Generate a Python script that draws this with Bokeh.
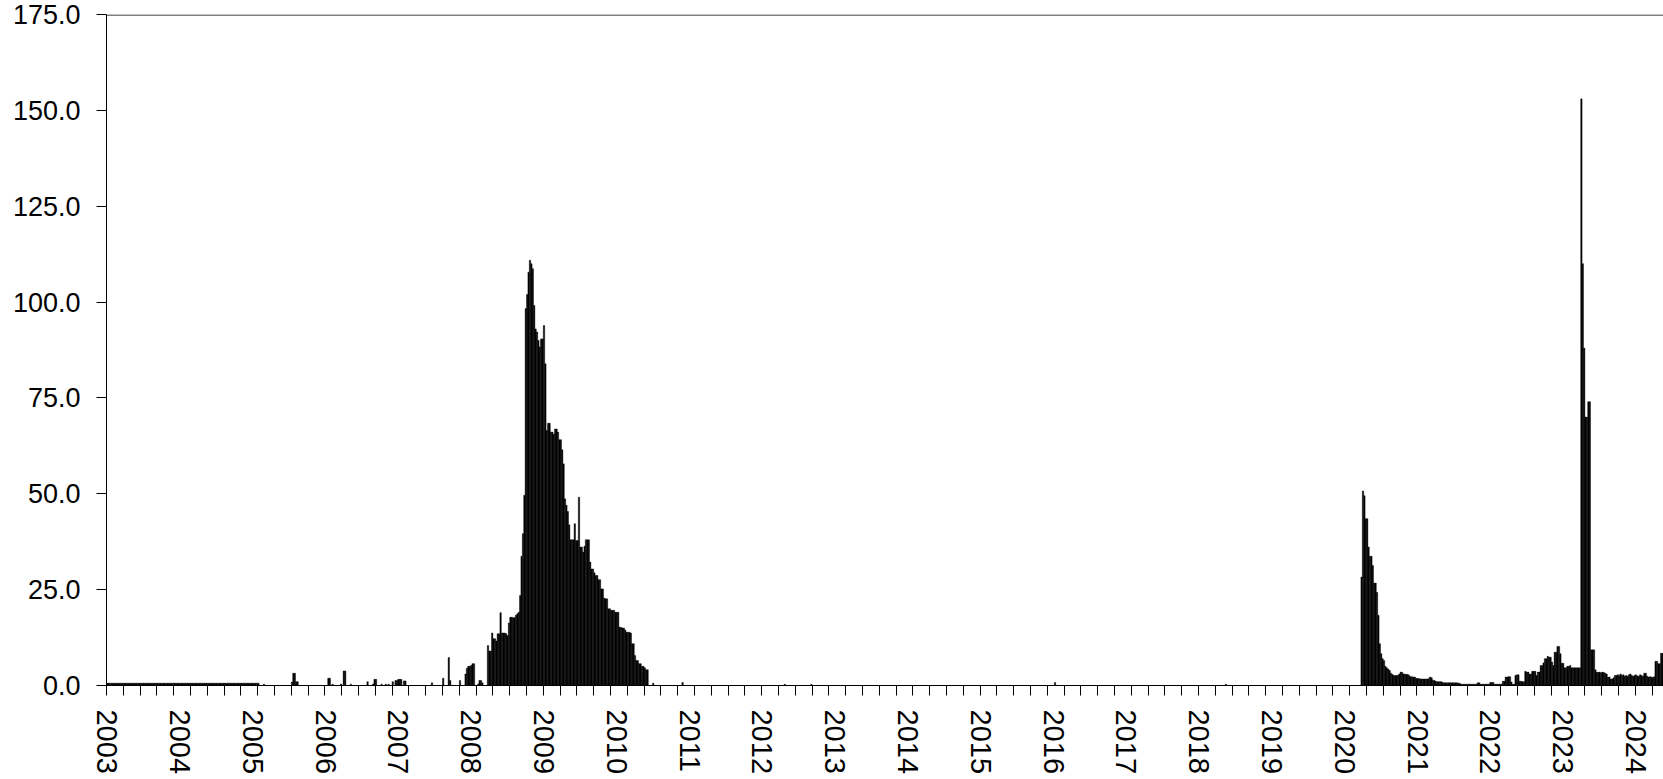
import math
from bokeh.plotting import figure
from bokeh.models import Range1d, FixedTicker, PrintfTickFormatter, Span
from bokeh.embed import file_html
from bokeh.resources import INLINE

# ---- weekly values, one list per year (52 weeks per year label) ----
y2003 = [0.6] * 52
y2004 = [0.6] * 52
y2005 = [0.6] * 5 + [0.0] * 3 + [0.35] + [0.0] * 19 + [0.9, 3.2, 3.2, 1.0, 1.0] + [0.0] * 19
y2006 = ([0, 0, 1.9, 1.9, 0, 0.35, 0, 0, 0, 0, 0, 0.4, 0, 3.8, 3.8, 0, 0, 0, 0.35]
         + [0.0] * 11
         + [1.0, 0, 0, 0, 0.4, 1.6, 1.6, 0, 0, 0, 0.35, 0, 0, 0.35, 0, 0.35, 0, 0, 1.0, 0, 1.3, 1.3])
y2007 = ([1.6, 1.6, 1.6, 0, 1.2, 1.2] + [0.0] * 18 + [0.7] + [0.0] * 7
         + [1.9, 0, 0, 0, 7.3, 1.3] + [0.0] * 6 + [1.3, 0, 0, 0, 3.0, 4.5, 5.0, 5.0])
y2008 = [5.2, 5.7, 5.7, 0, 0, 0.4, 1.3, 1.3, 0.7, 0, 0, 0,
         10.4, 9.0, 9.0, 13.7, 12.2, 12.2, 11.6, 13.5, 13.5, 19.0,
         13.7, 13.7, 13.7, 13.5, 13.0, 16.3, 17.8, 17.8, 17.7, 17.7,
         18.3, 18.7, 19.1, 23.5, 33.7, 39.6, 49.6, 98.3, 102.0, 107.8,
         110.9, 110.0, 108.7, 99.1, 93.0, 92.2, 90.0, 88.3, 90.4, 90.4]
y2009 = [93.9, 83.9, 66.5, 68.4, 68.4, 66.1, 66.1, 65.5, 66.9, 66.9,
         66.1, 64.1, 64.1, 61.5, 57.8, 48.7, 47.0, 45.4, 41.9, 38.0,
         38.0, 38.0, 42.2, 37.8, 37.8, 49.1, 36.1, 36.1, 34.8, 36.3,
         38.0, 38.0, 38.0, 32.2, 30.4, 30.4, 29.4, 28.7, 28.7, 27.6,
         27.6, 25.2, 25.2, 22.8, 22.6, 22.6, 20.0, 20.0, 19.6, 19.6,
         19.6, 19.1]
y2010 = ([19.1, 19.1, 15.2, 15.2, 15.0, 15.0, 14.5, 13.9, 13.9, 13.9,
          13.7, 10.9, 10.9, 7.8, 6.5, 6.5, 5.7, 5.7, 5.0, 5.0,
          4.6, 4.1, 4.1, 0, 0, 0, 0.6] + [0.0] * 20 + [0.8] + [0.0] * 4)
y2011 = [0.0] * 52
y2012 = [0.0] * 16 + [0.3] + [0.0] * 18 + [0.3] + [0.0] * 16
y2013 = [0.0] * 52
y2014 = [0.0] * 52
y2015 = [0.0] * 52
y2016 = [0.0, 0.8] + [0.0] * 50
y2017 = [0.0] * 52
y2018 = [0.0] * 19 + [0.3] + [0.0] * 32
y2019 = [0.0] * 52
y2020 = ([0.0] * 12
         + [28.3, 50.7, 49.5, 43.5, 43.5, 36.1, 33.7, 33.7, 31.3, 26.7,
            26.7, 24.3, 18.3, 10.9, 8.3, 7.0, 6.5, 5.0, 4.6, 4.3,
            3.9, 3.2, 2.9, 2.6, 2.6, 2.6, 2.7, 3.0, 3.5, 3.4,
            3.0, 3.0, 2.9, 2.9, 2.6, 2.3, 2.3, 2.2, 2.2, 1.9])
y2021 = ([1.8, 1.8, 1.7, 1.7, 1.7, 1.7, 1.7, 1.7, 1.8, 2.2,
          2.0, 1.4, 1.3, 1.1, 1.0, 1.0, 1.0, 1.0, 0.8, 0.7]
         + [0.7] * 9 + [0.6, 0.6] + [0.35] * 12 + [0.7, 0.7] + [0.35] * 7)
y2022 = ([0.8, 0.8, 0.8] + [0.35] * 6
         + [1.1, 1.1, 2.2, 2.2, 2.3, 2.3, 0.9, 0.3, 0.3, 2.6,
            2.8, 2.8, 1.1, 1.1, 1.0, 1.0, 3.7, 3.5, 3.5, 3.0,
            3.0, 3.7, 3.7, 3.7, 2.6, 3.5, 3.5, 5.2, 5.2, 5.9,
            7.0, 7.0, 7.6, 7.4, 7.4, 6.1, 5.2, 8.7, 8.7, 10.2,
            10.2, 8.3, 5.8])
y2023 = [5.8, 4.6, 4.6, 5.0, 5.0, 5.2, 4.6, 4.6, 4.6, 4.6,
         4.6, 4.6, 4.6, 153.0, 110.0, 88.0, 70.0, 70.0, 74.0, 74.0,
         9.3, 9.3, 9.3, 4.1, 3.5, 3.4, 3.5, 3.3, 3.5, 3.4,
         3.2, 3.0, 2.2, 2.2, 1.7, 1.7, 2.0, 2.6, 2.6, 2.8,
         2.6, 3.0, 2.6, 2.8, 2.4, 2.6, 2.4, 2.8, 3.0, 2.6,
         2.4, 2.6]
y2024 = [2.8, 2.5, 2.4, 2.8, 2.6, 2.4, 3.2, 3.2, 2.4, 2.2,
         2.3, 2.2, 2.1, 2.3, 6.3, 6.3, 5.7, 5.7, 8.4, 8.4]

year_labels = [str(y) for y in range(2003, 2025)]
y_ticks = [0, 25, 50, 75, 100, 125, 150, 175]

series = (y2003 + y2004 + y2005 + y2006 + y2007 + y2008 + y2009 + y2010 + y2011
          + y2012 + y2013 + y2014 + y2015 + y2016 + y2017 + y2018 + y2019 + y2020
          + y2021 + y2022 + y2023 + y2024)
weeks = list(range(len(series)))

W, H = 1663, 779
LEFT, TOP, BOTTOM = 106, 14, 94
PX_PER_WEEK = 1.4
Y_MAX = 175

p = figure(width=W, height=H, output_backend="svg", toolbar_location=None,
           x_range=Range1d(-0.5, -0.5 + (W - LEFT) / PX_PER_WEEK),
           y_range=Range1d(0, Y_MAX),
           min_border_left=LEFT, min_border_right=0, min_border_top=TOP, min_border_bottom=BOTTOM)
p.background_fill_color = "white"
p.border_fill_color = "white"
p.outline_line_color = None
p.xgrid.visible = False
p.ygrid.visible = False

p.vbar(x=weeks, top=series, width=1.0, fill_color="black", line_color="black", line_width=0.4)

# top frame line, nudged half a pixel inside so it renders crisp
half_px = 0.5 * Y_MAX / (H - TOP - BOTTOM)
p.add_layout(Span(location=Y_MAX - half_px, dimension="width", line_color="black", line_width=1))

# y axis
ya = p.yaxis[0]
ya.ticker = FixedTicker(ticks=y_ticks)
ya.formatter = PrintfTickFormatter(format="%.1f")
ya.major_tick_out = 10
ya.major_tick_in = 0
ya.minor_tick_out = 0
ya.minor_tick_in = 0
ya.axis_line_color = "black"
ya.major_tick_line_color = "black"
ya.major_label_standoff = 16
ya.major_label_text_font = "Liberation Sans"
ya.major_label_text_font_size = "27px"
ya.major_label_text_color = "black"

# x axis: labels every 52 weeks, ticks every 12 weeks
xa = p.xaxis[0]
label_pos = [52 * k for k in range(len(year_labels))]
xa.ticker = FixedTicker(ticks=label_pos, minor_ticks=[12 * k - 0.5 for k in range(0, 94)])
xa.major_label_overrides = {pos: lab for pos, lab in zip(label_pos, year_labels)}
xa.major_label_orientation = -math.pi / 2
xa.major_tick_out = 0
xa.major_tick_in = 0
xa.minor_tick_out = 10
xa.minor_tick_in = 0
xa.axis_line_color = "black"
xa.minor_tick_line_color = "black"
xa.major_label_standoff = 14
xa.major_label_text_font = "Liberation Sans"
xa.major_label_text_font_size = "29px"
xa.major_label_text_color = "black"

open("out.html", "w").write(file_html(p, INLINE))
